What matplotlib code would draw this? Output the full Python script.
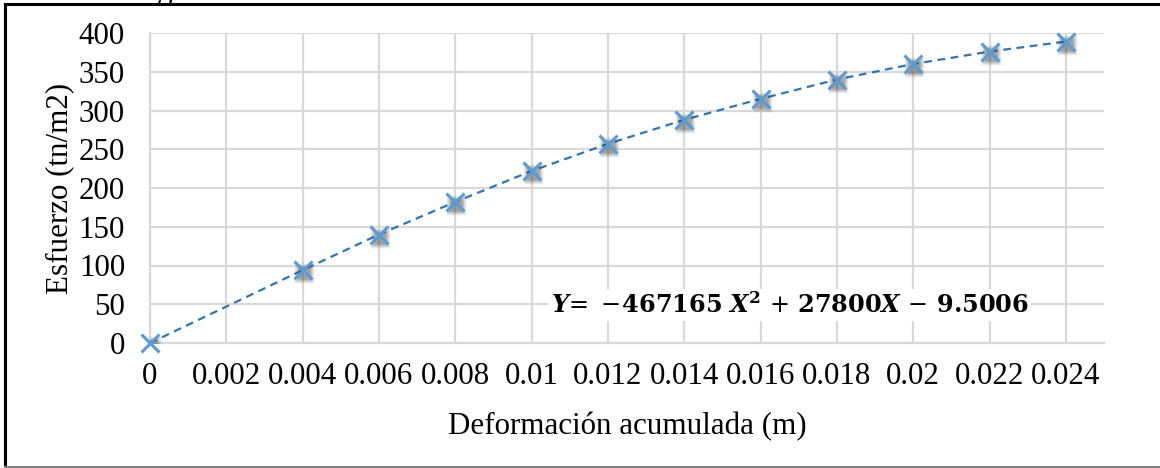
import matplotlib
matplotlib.use("Agg")
import matplotlib.pyplot as plt
import matplotlib.transforms as mtransforms
from matplotlib.lines import Line2D

plt.rcParams['font.family'] = ['Liberation Serif', 'DejaVu Serif']
plt.rcParams['mathtext.fontset'] = 'dejavuserif'

# Stress vs accumulated deformation
deformacion = [0.0, 0.004, 0.006, 0.008, 0.010, 0.012, 0.014, 0.016, 0.018, 0.020, 0.022, 0.024]
esfuerzo = [0, 94, 140, 182, 222, 257, 288, 315, 340, 360, 376, 389]

x_ticks = [0, 0.002, 0.004, 0.006, 0.008, 0.01, 0.012, 0.014, 0.016, 0.018, 0.02, 0.022, 0.024]
x_tick_labels = ['0', '0.002', '0.004', '0.006', '0.008', '0.01', '0.012', '0.014',
                 '0.016', '0.018', '0.02', '0.022', '0.024']
y_ticks = [0, 50, 100, 150, 200, 250, 300, 350, 400]

W, H = 1160, 468
FS = 22.3
fig = plt.figure(figsize=(W / 100, H / 100), dpi=100)
ax = fig.add_axes([150 / W, 1 - 343 / H, (1104 - 150) / W, (343 - 33) / H])

ax.set_xlim(0, 0.025)
ax.set_ylim(0, 400)
ax.set_xticks(x_ticks)
ax.set_xticklabels(x_tick_labels)
ax.set_yticks(y_ticks)

grid_c = '#D9D9D9'
ax.grid(True, color=grid_c, linewidth=1.6)
ax.set_axisbelow(True)
for s in ['top', 'right']:
    ax.spines[s].set_visible(False)
ax.spines['left'].set_color(grid_c)
ax.spines['left'].set_linewidth(1.6)
ax.spines['bottom'].set_color(grid_c)
ax.spines['bottom'].set_linewidth(1.6)
ax.tick_params(axis='both', length=0, labelsize=FS, colors='black')
ax.tick_params(axis='y', pad=18)
ax.tick_params(axis='x', pad=14)

ax.set_xlabel('Deformación acumulada (m)', fontsize=FS, labelpad=15)
ax.set_ylabel('Esfuerzo (tn/m2)', fontsize=FS, labelpad=3)

# dashed connecting line
ax.plot(deformacion, esfuerzo, linestyle=(0, (3.5, 2.5)), color='#2E75B6',
        linewidth=1.6, zorder=3)

# soft shadow behind markers
shadow_tr = mtransforms.offset_copy(ax.transData, fig=fig, x=1.0, y=-3.0, units='dots')
for size, alpha in [(20, 0.07), (18, 0.09), (16, 0.12), (14, 0.15), (12, 0.18)]:
    ax.plot(deformacion, esfuerzo, linestyle='none', marker='s', markersize=size * 0.72,
            markerfacecolor='#404040', markeredgecolor='none', alpha=alpha,
            transform=shadow_tr, zorder=4)

ax.plot(deformacion, esfuerzo, linestyle='none', marker='x', markersize=13.5,
        markeredgewidth=2.2, color='#5B9BD5', zorder=5, clip_on=False)

# regression equation
ax.text(0.0105, 49,
        r'$\mathbfit{Y}\!=\hspace{0.12}-\!\mathbf{467165}\ \mathbfit{X}^{\mathbf{2}}\,+\,\mathbf{27800}\mathbfit{X}\,-\,\mathbf{9.5006}$',
        fontsize=17.3, ha='left', va='center', zorder=6,
        bbox=dict(facecolor='white', edgecolor='none', pad=2))

# chart frame
fig.add_artist(Line2D([5 / W, 5 / W], [1 - 4 / H, 0], transform=fig.transFigure,
                      color='black', linewidth=2.2))
fig.add_artist(Line2D([5 / W, 1], [1 - 4 / H, 1 - 4 / H], transform=fig.transFigure,
                      color='black', linewidth=2.2))
fig.add_artist(Line2D([5 / W, 1], [1 - 467 / H, 1 - 467 / H], transform=fig.transFigure,
                      color='#7F7F7F', linewidth=1.5))

# caption text above the chart (mostly outside the canvas)
fig.text(157 / W, 1 + 1.5 / H, 'g', fontsize=FS, ha='left', va='baseline')

fig.savefig('out.png', dpi=100)
